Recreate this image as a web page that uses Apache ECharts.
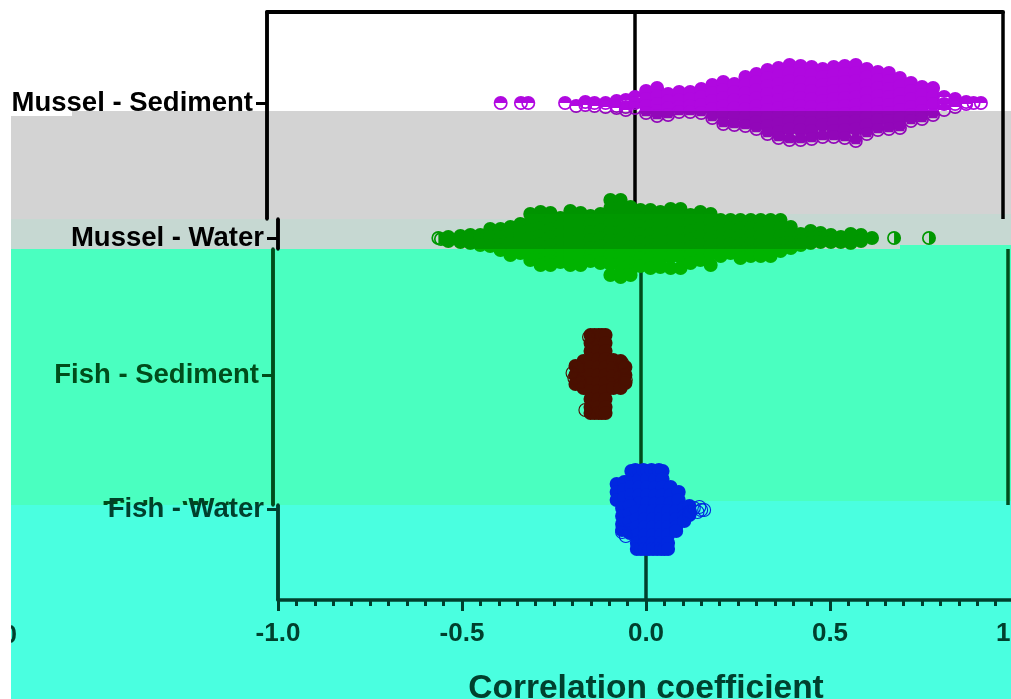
<!DOCTYPE html>
<html>
<head>
<meta charset="utf-8">
<style>html,body{margin:0;padding:0;background:#fff}#c{width:1011px;height:699px}</style>
<script src="https://cdn.jsdelivr.net/npm/echarts@6/dist/echarts.min.js"></script>
</head>
<body>
<div id="c"></div>
<script>
const categories = ['Mussel - Sediment', 'Mussel - Water', 'Fish - Sediment', 'Fish - Water'];
const lanes = [0, 135, 272, 406];
const xTickFormat = 1;
const xTitle = 'Correlation coefficient';

// each column: [correlation value, [swarm offsets within the lane]]
const musselSediment = [
[-.365,[0]],[-.31,[0]],[-.29,[0]],[-.19,[0]],[-.16,[3]],[-.135,[-1,2]],[-.11,[0,3]],[-.08,[0,4]],[-.05,[-2,3,5]],[-.025,[-3,4,7]],
[0,[-6,0,5]],[.03,[-12,-4,3,10]],[.06,[-15,-7,1,8,13]],[.09,[-9,-2,5,12]],[.12,[-11,-3,4,9]],[.15,[-11,-4,3,9]],[.18,[-14,-6,2,10]],
[.21,[-18,-10,-2,6,15]],[.24,[-21,-13,-5,3,11,21]],[.27,[-19,-11,-3,5,13,22]],[.30,[-26,-18,-10,-2,6,14,23]],
[.33,[-29,-21,-13,-5,3,11,19,26]],[.36,[-33,-25,-17,-9,-1,7,15,23,31]],[.39,[-35,-27,-19,-11,-3,5,13,21,29,35]],
[.42,[-38,-30,-22,-14,-6,2,10,18,26,37]],[.45,[-37,-29,-21,-13,-5,3,11,19,27,37]],[.48,[-36,-28,-20,-12,-4,4,12,20,28,36]],
[.51,[-34,-26,-18,-10,-2,6,14,22,34]],[.54,[-36,-28,-20,-12,-4,4,12,20,28,34]],[.57,[-37,-29,-21,-13,-5,3,11,19,27,35]],
[.60,[-38,-30,-22,-14,-6,2,10,18,26,38]],[.63,[-34,-26,-18,-10,-2,6,14,22,31]],[.66,[-31,-23,-15,-7,1,9,17,27]],
[.69,[-30,-22,-14,-6,2,10,18,26]],[.72,[-25,-17,-9,-1,7,15,25]],[.75,[-20,-12,-4,4,12,18]],[.78,[-16,-8,0,8,16]],
[.81,[-15,-7,1,12]],[.84,[-6,1,7]],[.87,[-4,1,4]],[.90,[-1,1]],[.92,[0]],[.94,[0]]
];
const musselWater = [
[-.523,[-1,3]],[-.49,[-2,4]],[-.463,[-3,5]],[-.436,[-3,2,7]],[-.409,[-9,-1,8]],[-.381,[-9,-1,7,12]],[-.354,[-11,-3,5,17]],
[-.327,[-14,-6,2,10,15]],[-.30,[-24,-16,-8,0,8,16,22]],[-.272,[-26,-18,-10,-2,6,14,22,27]],[-.245,[-25,-17,-9,-1,7,15,23,27]],
[-.218,[-20,-12,-4,4,12,20,24]],[-.191,[-27,-19,-11,-3,5,13,21,27]],[-.163,[-25,-17,-9,-1,7,15,23,27]],[-.136,[-22,-14,-6,2,10,18,23]],
[-.109,[-24,-16,-8,0,8,16,25]],[-.082,[-38,-30,-22,-14,-6,2,10,18,26,37]],[-.054,[-38,-30,-22,-14,-6,2,10,18,26,34,39]],
[-.027,[-31,-23,-15,-7,1,9,17,25,33,37]],[0,[-28,-20,-12,-4,4,12,20,28]],[.027,[-28,-20,-12,-4,4,12,20,30]],
[.054,[-26,-18,-10,-2,6,14,22,29]],[.082,[-29,-21,-13,-5,3,11,19,30]],[.109,[-29,-21,-13,-5,3,11,19,30]],[.136,[-23,-15,-7,1,9,17,25]],
[.163,[-26,-18,-10,-2,6,14,22]],[.191,[-24,-16,-8,0,8,16,27]],[.218,[-18,-10,-2,6,14,18]],[.245,[-18,-10,-2,6,15]],
[.272,[-18,-10,-2,6,14,20]],[.30,[-18,-10,-2,6,14,18]],[.327,[-18,-10,-2,6,14,18]],[.354,[-18,-10,-2,6,14,18]],[.381,[-18,-10,-2,6,13]],
[.409,[-11,-3,5,10]],[.436,[-4,3,7]],[.463,[-7,0,5]],[.49,[-5,0,4]],[.518,[-3,4]],[.545,[-1,4]],[.572,[-4,1,5]],[.60,[-3,3]],[.63,[0]]
];
const fishSediment = [
[-.177,[-9,0,9]],[-.155,[-14,-5,4,13]],[-.136,[-40,-32,-24,-16,-8,0,8,16,24,32,38]],[-.125,[-40,-32,32,38]],[-.114,[-40,-32,-24,-16,-8,0,8,16,24,32,38]],[-.105,[-40,38]],
[-.095,[-40,-32,-24,-16,-8,0,8,16,24,32,38]],[-.074,[-15,-7,1,9,13]],[-.054,[-14,-6,2,10,13]],[-.041,[-8,0,8]]
];
const fishWater = [
[-.065,[-25,-17,-9,-1,7,15,21]],[-.044,[-27,-19,-11,-3,5,13,21,24]],[-.025,[-38,-30,-22,-14,-6,2,10,18,26,34,40]],[-.014,[-39,40]],
[-.003,[-38,-30,-22,-14,-6,2,10,18,26,34,40]],[.008,[-39,40]],[.019,[-38,-30,-22,-14,-6,2,10,18,26,34,40]],[.03,[-39,40]],[.041,[-38,-30,-22,-14,-6,2,10,18,26,34,40]],[.05,[-39,40]],
[.06,[-38,-30,-22,-14,-6,2,10,18,26,34,40]],[.082,[-22,-14,-6,2,10,18,22]],[.104,[-17,-9,-1,7,12]],[.118,[-3,3,6]]
];
// outlying points drawn open: [correlation value, swarm offset]
const musselWaterOpen = [[-.55,0],[-.543,1],[.69,0],[.785,0]];
const fishSedimentOpen = [[-.185,-2],[-.18,3],[-.17,-8],[-.165,7],[-.05,-12],[-.045,-8],[-.04,5],[-.15,35],[-.14,-38]];
const fishWaterOpen = [[.12,3],[.13,-1],[.14,3],[.145,-2],[.15,1],[.158,1],[-.065,23],[-.055,27]];

const colors = { musselSediment:'#b008e0', musselWater:'#00b300', fishSediment:'#ff1000', fishWater:'#0028e0' };
const ink = { top:'#000', mid:'#004d23', low:'#004034' };

const ringTopHalf = 'path://M0,50 A50,50 0 1,1 100,50 A50,50 0 1,1 0,50 Z M12,50 A38,38 0 1,0 88,50 A38,38 0 1,0 12,50 Z M12,50 A38,38 0 0,1 88,50 Z';
const ringMostlyFilled = 'path://M0,50 A50,50 0 1,1 100,50 A50,50 0 1,1 0,50 Z M12,50 A38,38 0 1,0 88,50 A38,38 0 1,0 12,50 Z M12,50 A38,38 0 0,1 88,50 L78,74 L22,74 Z';
const ringRightHalf = 'path://M0,50 A50,50 0 1,1 100,50 A50,50 0 1,1 0,50 Z M12,50 A38,38 0 1,0 88,50 A38,38 0 1,0 12,50 Z M50,12 A38,38 0 0,1 50,88 Z';
const thinRing = 'path://M0,50 A50,50 0 1,1 100,50 A50,50 0 1,1 0,50 Z M8,50 A42,42 0 1,0 92,50 A42,42 0 1,0 8,50 Z';
const SIZE = 14;

function points(cols, lane, halfLowest) {
  const out = [];
  cols.forEach(([v, offs]) => offs.forEach((o, i) => {
    let symbol = 'circle';
    if (halfLowest) {
      if (offs.length <= 3) symbol = ringTopHalf;
      else if (i === offs.length - 1) symbol = ringMostlyFilled;
    }
    out.push({ value: [v, lane + o], symbol });
  }));
  return out;
}
const openPts = (arr, lane) => arr.map(([v, o]) => [v, lane + o]);

function scatter(name, data, color, ax, z, extra) {
  return Object.assign({ type:'scatter', name, data, xAxisIndex:ax[0], yAxisIndex:ax[1], symbolSize:SIZE,
    itemStyle:{ color, opacity:1 }, z, clip:false, silent:true, animation:false }, extra || {});
}

function xGuide(grid, color, extra) {
  return Object.assign({ type:'value', gridIndex:grid, min:-1, max:1, interval:1, position:'top',
    axisLine:{show:false}, axisTick:{show:false}, axisLabel:{show:false},
    splitLine:{show:true, lineStyle:{color, width:3.5}}, z:1 }, extra || {});
}
function yLane(grid, min, max, lane, color, z) {
  return { type:'value', gridIndex:grid, inverse:true, min, max,
    axisLine:{show:true, onZero:false, lineStyle:{color, width:3.5}},
    axisTick:{show:true, length:11, customValues:[lane], lineStyle:{color, width:3}},
    axisLabel:{show:true, customValues:[lane], margin:14, hideOverlap:false, color, padding:[6,0,0,0],
      fontFamily:'Liberation Sans', fontWeight:'bold', fontSize:27.5,
      formatter: v => categories[lanes.indexOf(v)] || ''},
    splitLine:{show:false}, z };
}

const gridBase = {outerBoundsMode:'none', containLabel:false};
const option = {
  backgroundColor:'#fff',
  animation:false,
  grid:[
    Object.assign({left:267, top:12, width:736, height:207}, gridBase),
    Object.assign({left:278, top:219, width:736, height:30}, gridBase),
    Object.assign({left:273, top:249, width:735, height:256}, gridBase),
    Object.assign({left:278, top:505, width:736, height:95}, gridBase)
  ],
  xAxis:[
    xGuide(0, ink.top, {axisLine:{show:true, onZero:false, lineStyle:{color:ink.top, width:4}}}),
    xGuide(1, ink.top),
    xGuide(2, ink.mid),
    { type:'value', gridIndex:3, min:-1, max:1, interval:0.5, position:'bottom',
      name:xTitle, nameLocation:'center', nameGap:72,
      nameTextStyle:{fontFamily:'Liberation Sans', fontWeight:'bold', fontSize:33.5, color:ink.low},
      axisLine:{show:true, onZero:false, lineStyle:{color:ink.low, width:3.5}},
      axisTick:{show:true, length:11, lineStyle:{color:ink.low, width:3}},
      minorTick:{show:true, splitNumber:10, length:6, lineStyle:{color:ink.low, width:3}},
      axisLabel:{show:true, margin:21, hideOverlap:false, showMinLabel:true, showMaxLabel:true, color:ink.low,
        fontFamily:'Liberation Sans', fontWeight:'bold', fontSize:26,
        formatter: v => v.toFixed(xTickFormat)},
      splitLine:{show:false}, z:3 },
    xGuide(3, ink.low)
  ],
  yAxis:[
    yLane(0, -91, 116, lanes[0], ink.top, 1),
    yLane(1, 116, 146, lanes[1], ink.top, 1),
    yLane(2, 146, 402, lanes[2], ink.mid, 1),
    yLane(3, 402, 497, lanes[3], ink.low, 3)
  ],
  series:[
    scatter(categories[0], points(musselSediment, lanes[0], true), colors.musselSediment, [0,0], 5),
    scatter(categories[1], points(musselWater, lanes[1], false), colors.musselWater, [2,2], 5),
    scatter(categories[1]+' open', openPts(musselWaterOpen, lanes[1]), colors.musselWater, [2,2], 5, {symbol:ringRightHalf}),
    scatter(categories[2], points(fishSediment, lanes[2], false), colors.fishSediment, [2,2], 5),
    scatter(categories[2]+' open', openPts(fishSedimentOpen, lanes[2]), colors.fishSediment, [2,2], 5, {symbol:thinRing}),
    scatter(categories[3], points(fishWater, lanes[3], false), colors.fishWater, [2,2], 12, {clip:true}),
    scatter(categories[3]+' open', openPts(fishWaterOpen, lanes[3]), colors.fishWater, [2,2], 12, {symbol:thinRing, clip:true}),
    scatter(categories[3]+' low', points(fishWater, lanes[3], false), colors.fishWater, [4,3], 12, {clip:true}),
    scatter(categories[3]+' low open', openPts(fishWaterOpen, lanes[3]), colors.fishWater, [4,3], 12, {symbol:thinRing, clip:true})
  ],
  graphic:[
    {type:'text', z:2, silent:true, x:258, y:512, style:{text:categories[3], align:'right', verticalAlign:'middle',
      fill:ink.mid, font:'bold 27.5px "Liberation Sans"'}},
    {type:'rect', z:2, z2:5, silent:true, shape:{x:80,y:505,width:190,height:22}, style:{fill:'#fff'}},
    {type:'text', z:6, silent:true, x:17, y:636, style:{text:'0', align:'right', verticalAlign:'middle',
      fill:ink.low, font:'bold 26px "Liberation Sans"'}},
    {type:'rect', z:7, silent:true, shape:{x:0,y:0,width:11,height:699}, style:{fill:'#fff'}},
    {type:'polygon', z:10, silent:true, shape:{points:[[11,116],[72,116],[72,111],[1011,111],[1011,214],[525,214],[525,219],[11,219]]},
      style:{fill:'#d3d3d3', blend:'multiply'}},
    {type:'polygon', z:10, silent:true, shape:{points:[[11,219],[525,219],[525,214],[1011,214],[1011,245],[900,245],[900,249],[11,249]]},
      style:{fill:'#c6d8d2', blend:'multiply'}},
    {type:'polygon', z:10, silent:true, shape:{points:[[11,249],[900,249],[900,245],[1011,245],[1011,501],[706,501],[706,505],[11,505]]},
      style:{fill:'#4affc0', blend:'multiply'}},
    {type:'polygon', z:10, silent:true, shape:{points:[[11,505],[706,505],[706,501],[1011,501],[1011,699],[11,699]]},
      style:{fill:'#4affe0', blend:'multiply'}}
  ]
};
const chart = echarts.init(document.getElementById('c'), null, {renderer:'canvas'});
chart.setOption(option);
</script>
</body>
</html>
